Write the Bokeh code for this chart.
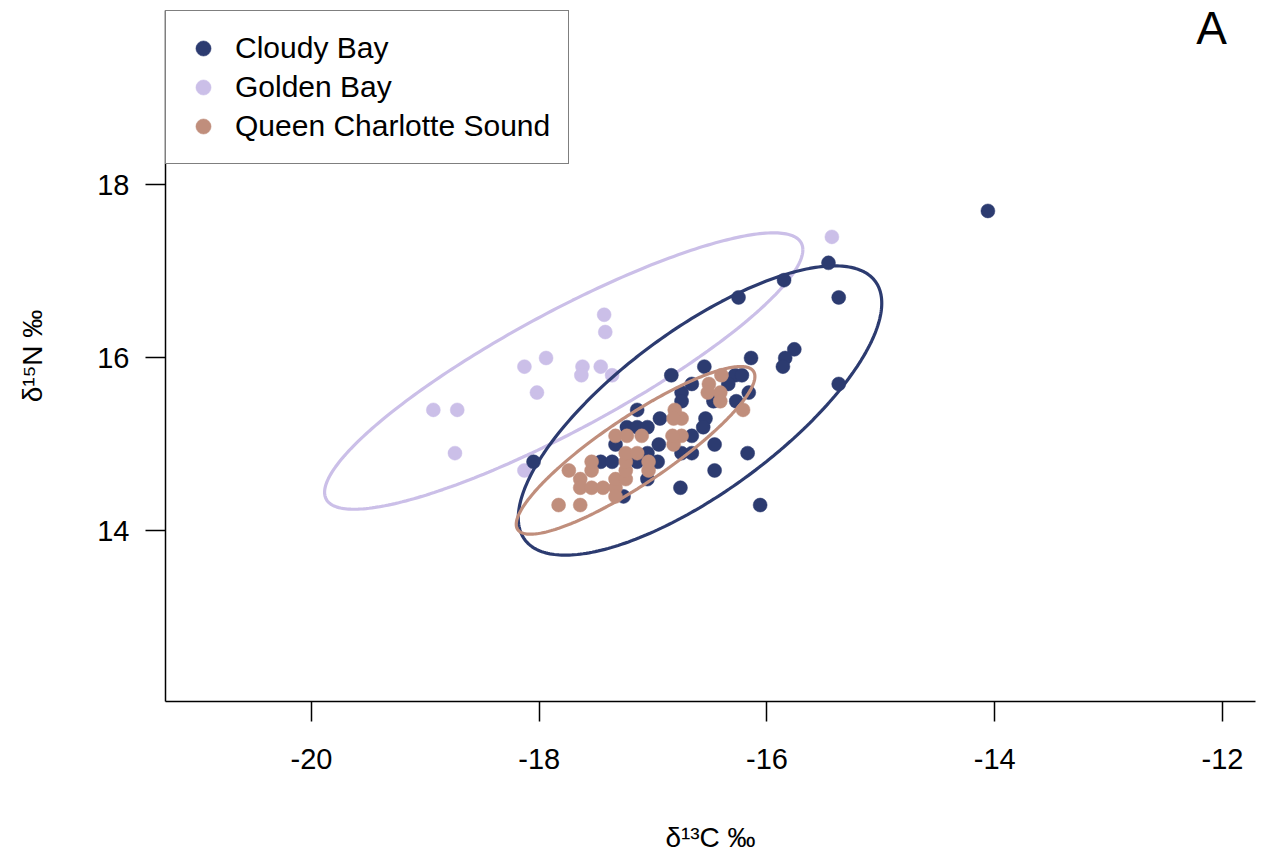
import numpy as np
from bokeh.plotting import figure
from bokeh.models import Range1d, FixedTicker, Legend, LegendItem, Label, PrintfTickFormatter
from bokeh.embed import file_html
from bokeh.resources import INLINE

# ---------------- data ----------------
groups = ["Cloudy Bay", "Golden Bay", "Queen Charlotte Sound"]
colors = ["#2c3b70", "#cbbfe8", "#c08e7c"]

cloudy_x = [-15.46, -15.85, -16.25, -15.37, -15.76, -15.84, -15.86, -15.37, -16.14, -16.55,
            -16.84, -16.28, -16.22, -16.34, -16.16, -16.27, -16.47, -16.66, -16.75, -16.75,
            -17.14, -16.94, -16.54, -16.56, -17.23, -17.14, -17.05, -17.33, -16.95, -16.66,
            -16.46, -16.75, -16.66, -17.05, -16.17, -17.46, -17.36, -17.14, -16.96, -16.46,
            -17.05, -16.76, -17.26, -16.06, -18.05, -14.06]
cloudy_y = [17.1, 16.9, 16.7, 16.7, 16.1, 16.0, 15.9, 15.7, 16.0, 15.9,
            15.8, 15.8, 15.8, 15.7, 15.6, 15.5, 15.5, 15.7, 15.6, 15.5,
            15.4, 15.3, 15.3, 15.2, 15.2, 15.2, 15.2, 15.0, 15.0, 15.1,
            15.0, 14.9, 14.9, 14.9, 14.9, 14.8, 14.8, 14.8, 14.8, 14.7,
            14.6, 14.5, 14.4, 14.3, 14.8, 17.7]

golden_x = [-18.93, -18.72, -18.74, -18.13, -17.94, -18.02, -18.13, -17.43, -17.42, -17.62,
            -17.63, -17.46, -17.36, -15.43]
golden_y = [15.4, 15.4, 14.9, 15.9, 16.0, 15.6, 14.7, 16.5, 16.3, 15.9,
            15.8, 15.9, 15.8, 17.4]

qcs_x = [-17.83, -17.64, -17.74, -17.64, -17.64, -17.54, -17.54, -17.54, -17.44, -17.33,
         -17.33, -17.33, -17.24, -17.24, -17.24, -17.24, -17.14, -17.04, -17.04, -17.33,
         -17.23, -17.10, -16.81, -16.75, -16.82, -16.82, -16.75, -16.83, -16.51, -16.41,
         -16.41, -16.52, -16.40, -16.21]
qcs_y = [14.3, 14.3, 14.7, 14.6, 14.5, 14.5, 14.7, 14.8, 14.5, 14.5,
         14.4, 14.6, 14.6, 14.7, 14.8, 14.9, 14.9, 14.8, 14.7, 15.1,
         15.1, 15.1, 15.4, 15.3, 15.3, 15.0, 15.1, 15.1, 15.7, 15.6,
         15.5, 15.6, 15.8, 15.4]

# ellipse parameters: centre (x, y) and covariance-like matrix [sxx, sxy, syy]
ell_center = {"Cloudy Bay": (-16.588, 15.393),
              "Golden Bay": (-17.785, 15.849),
              "Queen Charlotte Sound": (-17.154, 14.932)}
ell_cov = {"Cloudy Bay": (2.547, 1.98, 2.796),
           "Golden Bay": (4.41, 2.943, 2.552),
           "Queen Charlotte Sound": (1.098, 0.895, 0.939)}

x_ticks = [-20, -18, -16, -14, -12]
y_ticks = [14, 16, 18]

# ---------------- figure ----------------
FONT = "Liberation Sans"
p = figure(width=1261, height=855, output_backend="svg", toolbar_location=None,
           x_range=Range1d(-21.282, -11.71), y_range=Range1d(12.029, 20.017),
           min_border_left=165, min_border_right=6, min_border_top=10, min_border_bottom=152)
p.outline_line_color = None
p.xgrid.visible = False
p.ygrid.visible = False
p.background_fill_color = "white"
p.border_fill_color = "white"

for ax, ticks in ((p.xaxis[0], x_ticks), (p.yaxis[0], y_ticks)):
    ax.ticker = FixedTicker(ticks=ticks)
    ax.formatter = PrintfTickFormatter(format="%d")
    ax.minor_tick_line_color = None
    ax.major_tick_out = 20
    ax.major_tick_in = 0
    ax.axis_line_width = 1.5
    ax.major_tick_line_width = 1.5
    ax.axis_line_color = "black"
    ax.major_tick_line_color = "black"
    ax.major_label_text_font = FONT
    ax.major_label_text_font_size = "29px"
    ax.major_label_text_color = "black"
    ax.axis_label_text_font = FONT
    ax.axis_label_text_font_size = "28px"
    ax.axis_label_text_font_style = "normal"
    ax.axis_label_text_color = "black"

p.xaxis[0].major_label_standoff = 27
p.yaxis[0].major_label_standoff = 16
p.yaxis[0].major_label_orientation = "horizontal"
p.xaxis[0].axis_label = "δ¹³C ‰"
p.yaxis[0].axis_label = "δ¹⁵N ‰"
p.xaxis[0].axis_label_standoff = 50
p.yaxis[0].axis_label_standoff = 46

xs = {"Cloudy Bay": cloudy_x, "Golden Bay": golden_x, "Queen Charlotte Sound": qcs_x}
ys = {"Cloudy Bay": cloudy_y, "Golden Bay": golden_y, "Queen Charlotte Sound": qcs_y}

t = np.linspace(0, 2 * np.pi, 300)
renderers = {}
for g, c in zip(["Golden Bay", "Cloudy Bay", "Queen Charlotte Sound"],
                [colors[1], colors[0], colors[2]]):
    sxx, sxy, syy = ell_cov[g]
    L = np.linalg.cholesky(np.array([[sxx, sxy], [sxy, syy]]))
    pts = L @ np.vstack([np.cos(t), np.sin(t)])
    cx, cy = ell_center[g]
    p.line(cx + pts[0], cy + pts[1], line_color=c, line_width=3.2)
    renderers[g] = p.scatter(xs[g], ys[g], size=14, marker="circle",
                             fill_color=c, line_color=c, line_width=0.5)

legend = Legend(items=[LegendItem(label=g, renderers=[renderers[g]]) for g in groups],
                location="top_left", margin=0, padding=18, spacing=1,
                glyph_width=38, glyph_height=38, label_height=30, label_standoff=13,
                label_text_font=FONT, label_text_font_size="30px", label_text_color="black",
                border_line_color="black", border_line_width=1.5,
                background_fill_color="white", background_fill_alpha=1.0)
p.add_layout(legend)

p.add_layout(Label(x=-12.096, y=19.82, text="A", text_font=FONT, text_font_size="46px",
                   text_align="center", text_baseline="middle", text_color="black"))

open("out.html", "w").write(file_html(p, INLINE))
